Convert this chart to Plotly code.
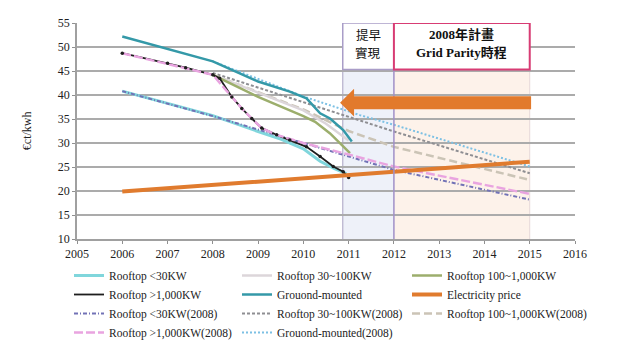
import plotly.graph_objects as go

# ---------------- data ----------------
years_ticks = [2005, 2006, 2007, 2008, 2009, 2010, 2011, 2012, 2013, 2014, 2015, 2016]
y_ticks = [10, 15, 20, 25, 30, 35, 40, 45, 50, 55]

# actual curves
rt30_x = [2006, 2007, 2008, 2009, 2009.5, 2010, 2010.37, 2010.7, 2010.95]
rt30_y = [40.8, 38.3, 35.7, 32.4, 30.8, 28.8, 26.2, 24.6, 23.6]

rt30_100_x = [2008, 2009, 2010, 2010.5, 2011]
rt30_100_y = [44.2, 40.5, 36.8, 34.0, 30.5]

rt100_1000_x = [2008, 2009, 2010, 2010.26, 2010.59, 2010.81, 2011.03]
rt100_1000_y = [44.2, 39.6, 35.6, 34.4, 32.0, 29.9, 27.9]

rt1000_x = [2006, 2007, 2007.4, 2008, 2008.15, 2008.42, 2008.64, 2008.86, 2009.08,
            2009.41, 2009.7, 2010.07, 2010.37, 2010.66, 2010.88, 2011.0]
rt1000_y = [48.7, 46.6, 45.7, 44.2, 43.5, 39.6, 37.2, 35.1, 33.1,
            31.7, 30.6, 29.2, 27.2, 25.1, 24.0, 22.8]

gm_x = [2006, 2007, 2008, 2009, 2009.7, 2010.07, 2010.37, 2010.59, 2010.88, 2011.07]
gm_y = [52.2, 49.6, 47.0, 42.8, 40.7, 39.3, 36.2, 35.1, 32.7, 30.3]

elec_x = [2006, 2008, 2010, 2012, 2015]
elec_y = [19.9, 21.2, 22.6, 24.0, 26.1]

# 2008 plan curves
rt30_08_x = [2006, 2008, 2010, 2011, 2012, 2015]
rt30_08_y = [40.8, 35.6, 30.0, 27.2, 24.4, 18.2]

rt30_100_08_x = [2008, 2011.25, 2012, 2015]
rt30_100_08_y = [44.6, 34.8, 32.4, 23.7]

rt100_1000_08_x = [2008, 2010, 2011, 2012, 2015]
rt100_1000_08_y = [44.2, 37.0, 32.5, 29.2, 22.3]

rt1000_08_x = [2006, 2008, 2008.42, 2008.64, 2008.86, 2009.08, 2009.41, 2010, 2011, 2012, 2015]
rt1000_08_y = [48.7, 44.2, 39.6, 37.2, 35.1, 33.1, 31.7, 30.0, 27.6, 25.1, 19.4]

gm_08_x = [2008, 2010, 2011.25, 2012, 2015]
gm_08_y = [47.0, 39.7, 35.8, 33.8, 25.1]

# annotation regions
EARLY_X0, PLAN_X0, PLAN_X1 = 2010.87, 2012, 2015
BOX_Y0, BOX_Y1 = 45.3, 55
TEXT_Y1, TEXT_Y2 = 52.6, 48.9
ARROW_TIP_X, ARROW_BACK_X, ARROW_END_X = 2010.81, 2011.12, 2015.03
ARROW_Y, SHAFT_HALF, HEAD_HALF = 38.4, 1.35, 2.9

SERIF = "Liberation Serif"
CJK = "Noto Sans CJK TC"

# figure sized to fit inside the page's default 8px body margin
FIG_W, FIG_H = 610, 348

fig = go.Figure()

def add(x, y, name, color, width, dash="solid", legend="legend", rank=1):
    fig.add_trace(go.Scatter(
        x=x, y=y, name=name, mode="lines",
        line=dict(color=color, width=width, dash=dash),
        legend=legend, legendrank=rank, hoverinfo="skip"))

add(rt100_1000_08_x, rt100_1000_08_y, "Rooftop 100~1,000KW(2008)", "#cbc4b6", 2.5, "8px,4px", "legend3", 3)
add(rt30_100_08_x, rt30_100_08_y, "Rooftop 30~100KW(2008)", "#8e8e92", 2, "3px,2px", "legend2", 3)
add(gm_08_x, gm_08_y, "Grouond-mounted(2008)", "#7cc0e4", 2, "2px,2px", "legend2", 4)
add(rt30_x, rt30_y, "Rooftop <30KW", "#80d6dc", 3, "solid", "legend", 1)
add(rt30_08_x, rt30_08_y, "Rooftop <30KW(2008)", "#7272b6", 2, "4px,2px,1px,2px", "legend", 3)
add(rt30_100_x, rt30_100_y, "Rooftop 30~100KW", "#dcd6da", 2.5, "solid", "legend2", 1)
add(rt100_1000_x, rt100_1000_y, "Rooftop 100~1,000KW", "#9cae6c", 2.5, "solid", "legend3", 1)
add(rt1000_x, rt1000_y, "Rooftop >1,000KW", "#1e1e1e", 1.8, "solid", "legend", 2)
add(rt1000_08_x, rt1000_08_y, "Rooftop >1,000KW(2008)", "#e9a4e0", 2.4, "9px,3px", "legend", 4)
fig.add_trace(go.Scatter(x=rt1000_x, y=rt1000_y, mode="markers", showlegend=False,
                         marker=dict(size=3.5, color="#1e1e1e"), hoverinfo="skip"))
add(gm_x, gm_y, "Grouond-mounted", "#3499a8", 2.5, "solid", "legend2", 2)
add(elec_x, elec_y, "Electricity price", "#e07b2e", 4, "solid", "legend3", 2)

shapes = [
    dict(type="rect", xref="x", yref="y", x0=EARLY_X0, x1=PLAN_X0, y0=10, y1=BOX_Y0,
         fillcolor="#eef1f9", line=dict(width=0), layer="below"),
    dict(type="rect", xref="x", yref="y", x0=PLAN_X0, x1=PLAN_X1, y0=10, y1=BOX_Y0,
         fillcolor="#fdf2ea", line=dict(width=0), layer="below"),
    dict(type="line", xref="x", yref="y", x0=EARLY_X0, x1=EARLY_X0, y0=10, y1=BOX_Y1,
         line=dict(color="#b6b0cc", width=1.2), layer="below"),
    dict(type="line", xref="x", yref="y", x0=PLAN_X1, x1=PLAN_X1, y0=10, y1=BOX_Y1,
         line=dict(color="#e6d8d8", width=1), layer="below"),
    dict(type="line", xref="x", yref="y", x0=PLAN_X0, x1=PLAN_X0, y0=10, y1=BOX_Y1,
         line=dict(color="#a090c8", width=1.5), layer="above"),
    dict(type="rect", xref="x", yref="y", x0=EARLY_X0, x1=PLAN_X0, y0=BOX_Y0, y1=BOX_Y1,
         fillcolor="white", line=dict(color="#a99dc8", width=1.5), layer="above"),
    dict(type="rect", xref="x", yref="y", x0=PLAN_X0, x1=PLAN_X1, y0=BOX_Y0, y1=BOX_Y1,
         fillcolor="white", line=dict(color="#d83c74", width=2), layer="above"),
    dict(type="path", xref="x", yref="y", layer="above",
         path=(f"M {ARROW_TIP_X},{ARROW_Y} L {ARROW_BACK_X},{ARROW_Y + HEAD_HALF} "
               f"L {ARROW_BACK_X},{ARROW_Y + SHAFT_HALF} L {ARROW_END_X},{ARROW_Y + SHAFT_HALF} "
               f"L {ARROW_END_X},{ARROW_Y - SHAFT_HALF} L {ARROW_BACK_X},{ARROW_Y - SHAFT_HALF} "
               f"L {ARROW_BACK_X},{ARROW_Y - HEAD_HALF} Z"),
         fillcolor="#e27a2c", line=dict(width=0)),
]

early_cx = (EARLY_X0 + PLAN_X0) / 2
plan_cx = (PLAN_X0 + PLAN_X1) / 2
box_font = dict(family=CJK, size=12.5, color="#111")
plan_font = dict(family=SERIF + ", " + CJK, size=13, color="#111")
TXT_H = 15

annotations = [
    dict(text="€ct/kwh", xref="paper", yref="paper", x=-0.1, y=0.5, textangle=-90,
         showarrow=False, font=dict(family=SERIF, size=12, color="#222"), xanchor="center", yanchor="middle"),
    dict(text="提早", xref="x", yref="y", x=early_cx, y=TEXT_Y1, showarrow=False, font=box_font,
         xanchor="center", yanchor="middle", height=TXT_H, valign="middle"),
    dict(text="實現", xref="x", yref="y", x=early_cx, y=TEXT_Y2, showarrow=False, font=box_font,
         xanchor="center", yanchor="middle", height=TXT_H, valign="middle"),
    dict(text="<b>2008年計畫</b>", xref="x", yref="y", x=plan_cx, y=TEXT_Y1, showarrow=False,
         font=plan_font, xanchor="center", yanchor="middle", height=TXT_H, valign="middle"),
    dict(text="<b>Grid Parity時程</b>", xref="x", yref="y", x=plan_cx, y=TEXT_Y2, showarrow=False,
         font=plan_font, xanchor="center", yanchor="middle", height=TXT_H, valign="middle"),
]

leg_common = dict(xref="container", yref="container", xanchor="left", yanchor="top",
                  orientation="v", bgcolor="rgba(0,0,0,0)", itemwidth=30,
                  font=dict(family=SERIF, size=11.5, color="#222"), traceorder="normal")
LEG_TOP = (FIG_H - 253) / FIG_H

fig.update_layout(
    width=FIG_W, height=FIG_H,
    margin=dict(l=69, r=43, t=15, b=117, autoexpand=False),
    paper_bgcolor="white", plot_bgcolor="white",
    showlegend=True,
    xaxis=dict(range=[2005, 2016], tickvals=years_ticks, ticktext=[str(v) for v in years_ticks],
               showgrid=False, zeroline=False, showline=True, linecolor="#a0a0a0", linewidth=1.5,
               ticks="outside", ticklen=3, tickcolor="#909090",
               tickfont=dict(family=SERIF, size=12, color="#222")),
    yaxis=dict(range=[10, 55], tickvals=y_ticks, showgrid=True, gridcolor="#ababab", gridwidth=1.6,
               zeroline=False, showline=True, linecolor="#a0a0a0", linewidth=1.5,
               ticks="outside", ticklen=3, tickcolor="#909090",
               tickfont=dict(family=SERIF, size=12, color="#222")),
    shapes=shapes, annotations=annotations,
    legend=dict(x=61 / FIG_W, y=LEG_TOP, **leg_common),
    legend2=dict(x=229 / FIG_W, y=LEG_TOP, **leg_common),
    legend3=dict(x=399 / FIG_W, y=LEG_TOP, **leg_common),
)

fig.write_html("out.html")
